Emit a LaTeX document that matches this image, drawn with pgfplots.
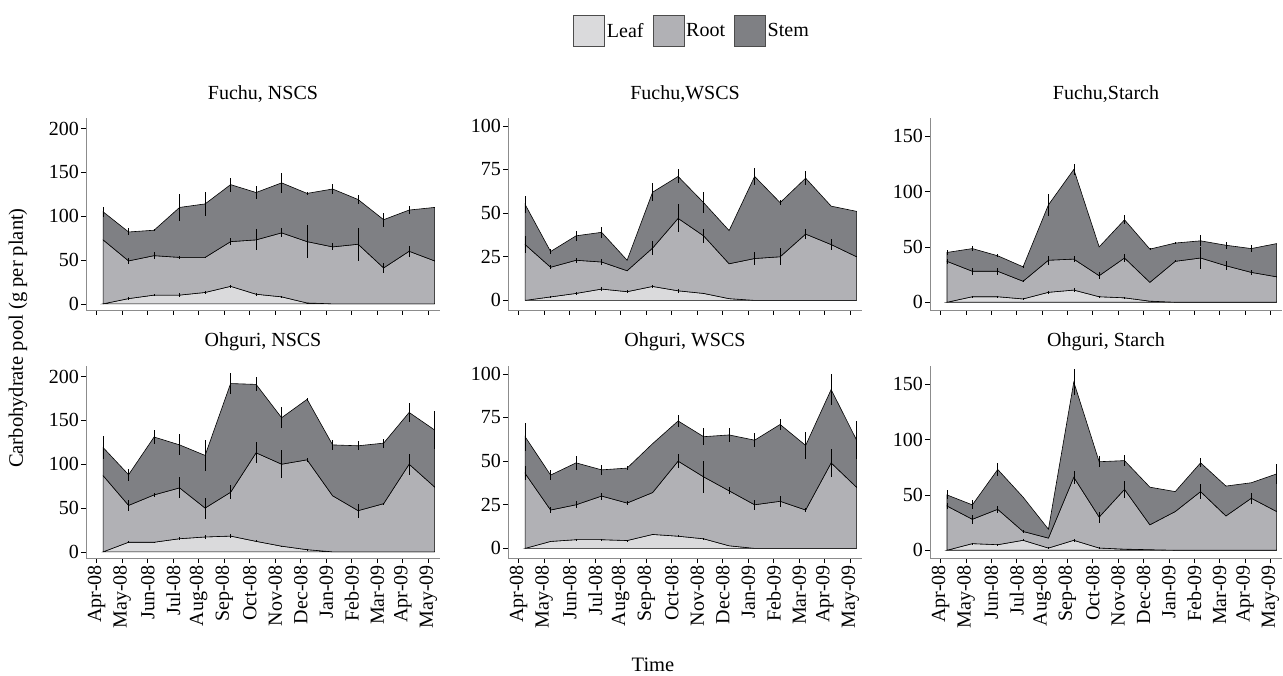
\documentclass[border=0pt]{standalone}
\usepackage{fontspec}
\setmainfont{Liberation Serif}
\usepackage{pgfplots}
\usepackage{pgfplotstable}
\pgfplotsset{compat=1.18}
\usepgfplotslibrary{fillbetween}

\definecolor{cleaf}{RGB}{218,218,220}
\definecolor{croot}{RGB}{177,177,181}
\definecolor{cstem}{RGB}{127,128,132}
\definecolor{caxis}{RGB}{140,140,140}

% cumulative tops: leaf, leaf+root, leaf+root+stem; errors el, er, es
\pgfplotstableread{
x     leaf root stem el  er  es
0.25  0    73   105  0   0   6
1.25  6    49   82   1.5 3   4
2.25  10   55   84   1.5 4   1
3.25  10   53   110  2   2   15
4.25  13   53   114  1.5 1   14
5.25  20   71   136  2   4   8
6.25  11   73   127  1.5 12  7
7.25  8    81   138  1   5   11
8.25  1    71   126  0.5 19  2
9.25  0    65   131  0   4   6
10.25 0    68   119  0   19  5
11.25 0    41   96   0   6   8
12.25 0    60   107  0   6   5
13.25 0    49   110  0   0   0
}\tA
\pgfplotstableread{
x     leaf root stem el  er  es
0.25  0    32   55   0   5   5
1.25  2    19   28   0.5 1   1.5
2.25  4    23   37   1   1.5 3
3.25  6.5  22   39   1   1.5 3
4.25  5    17   23   1   0   0
5.25  8    30   62   1   4   5
6.25  5.5  47   71   1   8   4
7.25  4    37   56   0.5 4   6
8.25  1    21   40   0   0   0
9.25  0    24   71   0   4   5
10.25 0    25   56   0   5   1.5
11.25 0    38   70   0   3   4
12.25 0    32   54   0   3   0
13.25 0    25   51   0   0   0
}\tB
\pgfplotstableread{
x     leaf root stem el  er  es
0.25  0    37   45   0   2   2
1.25  5    28   48.5 1   3   2
2.25  5    28   42   1   3   1.5
3.25  3    19   32   1   1   1
4.25  9    38   88   1.5 4   10
5.25  11   39   120  1.5 3   5
6.25  5    24   50   1   3   0
7.25  4    40   74.5 1   4   4
8.25  1    18   48   0   0   1
9.25  0    37   53.5 0   1   1
10.25 0    40   55.5 0   10  5
11.25 0    33   51.5 0   4   3
12.25 0    27   48.5 0   2   3
13.25 0    23   53   0   0   0
}\tC
\pgfplotstableread{
x     leaf root stem el  er  es
0.25  0    87   119  0   0   13
1.25  11   53   88   1   6   7
2.25  11   65   131  0.5 2   8
3.25  15   73   122  2   12  12
4.25  17   50   110  2.5 12  18
5.25  18   68   192  2   8   12
6.25  12   113  191  1   12  8
7.25  6.5  100  153  0.5 16  12
8.25  2.5  105  174  0.5 2   2
9.25  0    64   122  0   0   6
10.25 0    47   121  0   8   5
11.25 0    55   124  0   1   5
12.25 0    100  159  0   12  11
13.25 0    74   139  0   0   22
}\tD
\pgfplotstableread{
x     leaf root stem el  er  es
0.25  0    43   64   0   4   8
1.25  4    22   42   0.5 2   3
2.25  5    25   49   0.5 2   4
3.25  5    30   45   0.5 2   3
4.25  4.5  26   46   0.5 1   1
5.25  8    32   60   0.5 0   0
6.25  7    50   73   0.5 4   3.5
7.25  5.5  41   64   0.5 9   5
8.25  1.5  33   65   0   2   4
9.25  0    25   62   0   3   4
10.25 0    27   71   0   3   3
11.25 0    22   59   0   1   7.5
12.25 0    49   91   0   8   9
13.25 0    35   62   0   0   11
}\tE
\pgfplotstableread{
x     leaf root stem el  er  es
0.25  0    40   50   0   3   4
1.25  6    28   41   1   4   4
2.25  5    37   73   1   3   6
3.25  9    17   48   1   1   0
4.25  2    11   19   0.5 0   0
5.25  9    66   152  1.5 6   12
6.25  2    30   80   0.5 5   5
7.25  1    55   81   0   8   5
8.25  0.5  23   57   0   0   0
9.25  0    35   53   0   0   0
10.25 0    53   79   0   7   4
11.25 0    31   58   0   0   0
12.25 0    47   61   0   5   0
13.25 0    35   69   0   0   9
}\tF

\newcommand{\fs}{\fontsize{20pt}{24pt}\selectfont}
\newcommand{\fl}{\fontsize{20.5pt}{24pt}\selectfont}

\pgfplotsset{
  panel/.style={
    scale only axis, width=354pt, height=192pt,
    xmin=-0.42, xmax=13.46,
    axis x line*=bottom, axis y line*=left,
    axis line style={draw=caxis, line width=0.8pt},
    tick align=outside, major tick length=5pt,
    major tick style={draw=black, line width=0.7pt},
    xtick={0,...,13},
    xticklabels={Apr-08,May-08,Jun-08,Jul-08,Aug-08,Sep-08,Oct-08,Nov-08,Dec-08,Jan-09,Feb-09,Mar-09,Apr-09,May-09},
    xticklabel style={rotate=90, anchor=east, inner sep=2pt},
    yticklabel style={anchor=east, inner sep=2pt},
    tick label style={font=\fs},
    /pgf/number format/assume math mode=true,
    title style={font=\fs, at={(0.5,1)}, anchor=south, yshift=9pt, inner sep=0pt},
  },
  c1/.style={ymin=-7, ymax=212, ytick={0,50,100,150,200}},
  c2/.style={ymin=-5.5, ymax=104.5, ytick={0,25,50,75,100}},
  c3/.style={ymin=-7, ymax=166.5, ytick={0,50,100,150}},
}

\newcommand{\layers}[1]{%
  \addplot[name path=z, draw=none, forget plot] table[x=x, y expr=0]{#1};
  \addplot[name path=l, draw=none, forget plot] table[x=x, y=leaf]{#1};
  \addplot[name path=r, draw=none, forget plot] table[x=x, y=root]{#1};
  \addplot[name path=s, draw=none, forget plot] table[x=x, y=stem]{#1};
  \addplot[fill=cleaf, draw=black, line width=0.6pt, forget plot] fill between[of=l and z];
  \addplot[fill=croot, draw=black, line width=0.6pt, forget plot] fill between[of=r and l];
  \addplot[fill=cstem, draw=black, line width=0.6pt, forget plot] fill between[of=s and r];
  \addplot[draw=none, forget plot, error bars/.cd, y dir=both, y explicit, error mark=none,
    error bar style={draw=black, line width=0.6pt}] table[x=x, y=leaf, y error=el]{#1};
  \addplot[draw=none, forget plot, error bars/.cd, y dir=both, y explicit, error mark=none,
    error bar style={draw=black, line width=0.6pt}] table[x=x, y=root, y error=er]{#1};
  \addplot[draw=none, forget plot, error bars/.cd, y dir=both, y explicit, error mark=none,
    error bar style={draw=black, line width=0.6pt}] table[x=x, y=stem, y error=es]{#1};
}

\begin{document}
\begin{tikzpicture}

\begin{axis}[panel, xticklabels={}, c1, at={(86pt,365pt)}, anchor=south west, title={Fuchu, NSCS}]
\layers{\tA}
\end{axis}
\begin{axis}[panel, xticklabels={}, c2, at={(508pt,365pt)}, anchor=south west, title={Fuchu,WSCS},
  legend style={at={(0.52,1.453)}, anchor=center, draw=none, fill=none, legend columns=3, font=\fs,
    /tikz/every even column/.append style={column sep=7pt}}]
\addlegendimage{legend image code/.code={\draw[fill=cleaf, draw=black!70, line width=0.6pt] (0pt,-15.5pt) rectangle (31pt,15.5pt);}}
\addlegendimage{legend image code/.code={\draw[fill=croot, draw=black!70, line width=0.6pt] (0pt,-15.5pt) rectangle (31pt,15.5pt);}}
\addlegendimage{legend image code/.code={\draw[fill=cstem, draw=black!70, line width=0.6pt] (0pt,-15.5pt) rectangle (31pt,15.5pt);}}
\layers{\tB}
\legend{Leaf,Root,Stem}
\end{axis}
\begin{axis}[panel, xticklabels={}, c3, at={(930pt,365pt)}, anchor=south west, width=352pt, title={Fuchu,Starch}]
\layers{\tC}
\end{axis}

\begin{axis}[panel, c1, at={(86pt,117pt)}, anchor=south west, title={Ohguri, NSCS}]
\layers{\tD}
\end{axis}
\begin{axis}[panel, c2, at={(508pt,117pt)}, anchor=south west, title={Ohguri, WSCS}]
\layers{\tE}
\end{axis}
\begin{axis}[panel, c3, at={(930pt,117pt)}, anchor=south west, width=352pt, title={Ohguri, Starch}]
\layers{\tF}
\end{axis}

\node[rotate=90, font=\fl] at (18pt,337pt) {Carbohydrate pool (g per plant)};
\node[font=\fl] at (653pt,10pt) {Time};
\path (0,0) rectangle (1283pt,675pt);
\end{tikzpicture}
\end{document}
